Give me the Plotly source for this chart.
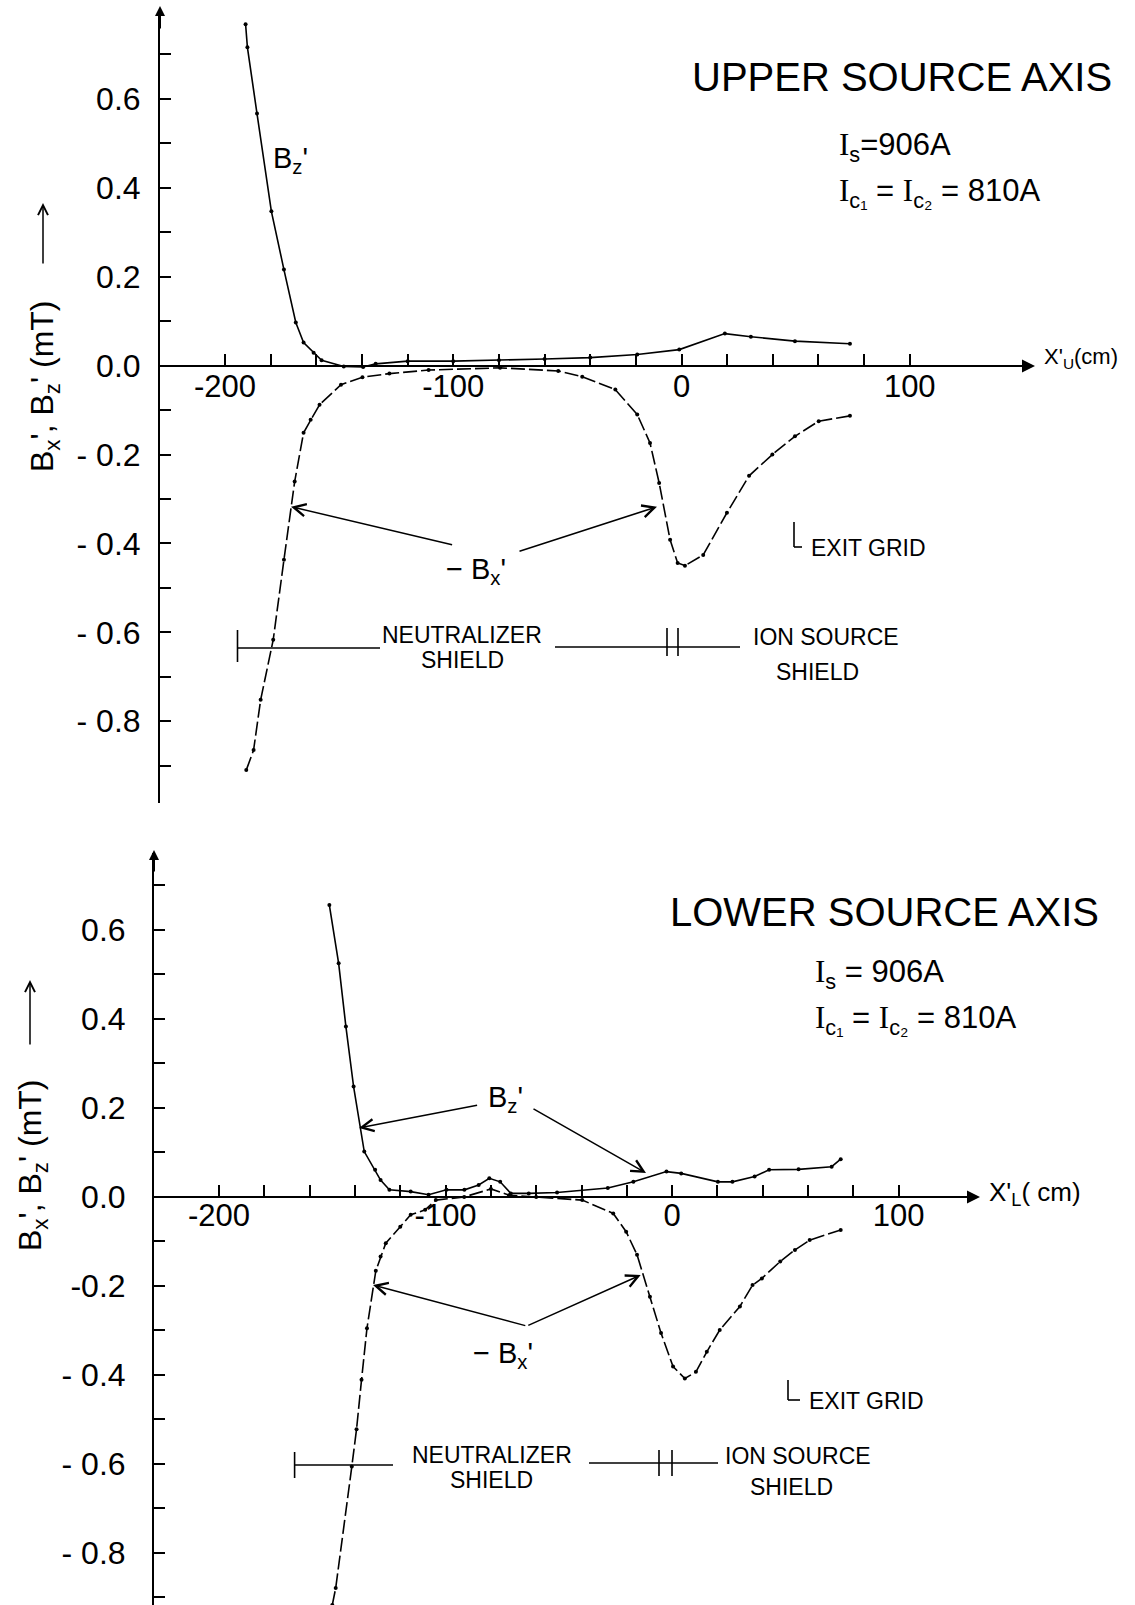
import plotly.graph_objects as go

# ---------------- data ----------------
upper_bz_x = [-191, -190.2, -186, -179.7, -174.2, -169, -165.6, -161.2, -157.7, -148, -139.5, -134,
              -120, -100, -80, -60, -40, -19.4, -1, 19, 30.4, 49.7, 73.8]
upper_bz = [0.768, 0.716, 0.567, 0.347, 0.216, 0.097, 0.052, 0.029, 0.012, -0.002, -0.003, 0.004,
            0.01, 0.01, 0.012, 0.015, 0.018, 0.025, 0.036, 0.072, 0.065, 0.055, 0.049]

upper_bx_x = [-190.7, -187.5, -184.4, -178.9, -174.2, -169.5, -165.6, -162.5, -158.6, -149.2, -139.8,
              -128, -110.8, -79.5, -54, -43.5, -29, -19.4, -13.8, -9.8, -5, -1.7, 1.5, 9.5, 19.9,
              29.6, 39.8, 49.7, 60.1, 73.8]
upper_neg_bx = [-0.91, -0.865, -0.752, -0.617, -0.437, -0.261, -0.151, -0.122, -0.088, -0.043, -0.026,
                -0.018, -0.01, -0.005, -0.012, -0.025, -0.054, -0.11, -0.174, -0.264, -0.392, -0.444,
                -0.45, -0.426, -0.331, -0.248, -0.2, -0.159, -0.125, -0.113]

lower_bz_x = [-151.3, -147.2, -144, -140.6, -135.9, -131.1, -128.7, -124.8, -115.4, -107.5, -99.6, -91.7,
              -85.4, -80.7, -75.9, -71.2, -63.3, -50.8, -28.4, -17.1, -2.5, 4.0, 20.2, 26.6, 36.4,
              42.8, 55.8, 70.4, 74.4]
lower_bz = [0.656, 0.525, 0.383, 0.248, 0.102, 0.061, 0.038, 0.016, 0.012, 0.005, 0.016, 0.016,
            0.027, 0.042, 0.034, 0.008, 0.008, 0.01, 0.02, 0.034, 0.057, 0.053, 0.034, 0.034, 0.046,
            0.061, 0.062, 0.068, 0.085]

lower_bx_x = [-150, -148.5, -141.4, -139.3, -137.1, -134.7, -130.8, -128.7, -126.4, -120, -115.4, -109,
              -104.3, -91.8, -80, -72, -60, -39.7, -26, -20.3, -15.5, -9.8, -4.9, 0.4, 5.6, 10.5,
              15.3, 21, 29.9, 35.5, 39.6, 47.7, 54.2, 60.7, 74.4]
lower_neg_bx = [-0.917, -0.879, -0.606, -0.522, -0.411, -0.295, -0.166, -0.134, -0.104, -0.067, -0.04,
                -0.029, -0.007, 0.0, 0.018, 0.004, 0.0, -0.007, -0.037, -0.078, -0.13, -0.224, -0.306,
                -0.381, -0.408, -0.393, -0.348, -0.299, -0.246, -0.198, -0.183, -0.145, -0.119,
                -0.097, -0.074]

x_tick_vals = [-200, -100, 0, 100]
x_tick_text = ["-200", "-100", "0", "100"]
x_minor_vals = list(range(-200, 101, 20))
y_tick_vals = [-0.8, -0.6, -0.4, -0.2, 0.0, 0.2, 0.4, 0.6]
upper_y_text = ["- 0.8", "- 0.6", "- 0.4", "- 0.2", "0.0", "0.2", "0.4", "0.6"]
lower_y_text = ["- 0.8", "- 0.6", "- 0.4", "-0.2", "0.0", "0.2", "0.4", "0.6"]
y_minor_vals = [-0.9, -0.7, -0.5, -0.3, -0.1, 0.1, 0.3, 0.5, 0.7]

# ---------------- helpers ----------------
W, H = 1135, 1605
FONT = "Liberation Sans"


def px(x):
    return x / W


def py(y):
    return 1 - y / H


fig = go.Figure()

bz_line = dict(color="black", width=1.6)
bx_line = dict(color="black", width=1.6, dash="14px,4px")
mk = dict(size=4, color="black")

fig.add_trace(go.Scatter(x=upper_bz_x, y=upper_bz, mode="lines+markers", line=bz_line, marker=mk,
                         xaxis="x", yaxis="y", showlegend=False, hoverinfo="skip"))
fig.add_trace(go.Scatter(x=upper_bx_x, y=upper_neg_bx, mode="lines+markers", line=bx_line, marker=mk,
                         xaxis="x", yaxis="y", showlegend=False, hoverinfo="skip"))
fig.add_trace(go.Scatter(x=lower_bz_x, y=lower_bz, mode="lines+markers", line=bz_line, marker=mk,
                         xaxis="x2", yaxis="y2", showlegend=False, hoverinfo="skip"))
fig.add_trace(go.Scatter(x=lower_bx_x, y=lower_neg_bx, mode="lines+markers", line=bx_line, marker=mk,
                         xaxis="x2", yaxis="y2", showlegend=False, hoverinfo="skip"))

minor_style = dict(ticks="inside", ticklen=11, tickwidth=2, tickcolor="black")
common = dict(showgrid=False, zeroline=False, showline=True, linecolor="black", linewidth=2,
              ticks="inside", ticklen=11, tickwidth=2, tickcolor="black", fixedrange=True)

fig.update_layout(
    width=W, height=H, margin=dict(l=0, r=0, t=0, b=0),
    paper_bgcolor="white", plot_bgcolor="white",
    xaxis=dict(**common, domain=[px(160), px(1033)], range=[-228.5, 154], anchor="free",
               position=py(366), tickvals=x_tick_vals, ticktext=x_tick_text,
               minor=dict(tickvals=x_minor_vals, **minor_style), ticklabelstandoff=-7,
               tickfont=dict(family=FONT, size=31, color="black")),
    yaxis=dict(**common, domain=[py(803), py(10)], range=[-0.984, 0.80], anchor="x",
               tickvals=y_tick_vals, ticktext=upper_y_text,
               minor=dict(tickvals=y_minor_vals, **minor_style), ticklabelstandoff=11,
               tickfont=dict(family=FONT, size=32, color="black")),
    xaxis2=dict(**common, domain=[px(154), px(978)], range=[-228.7, 135], anchor="free",
                position=py(1197), tickvals=x_tick_vals, ticktext=x_tick_text,
                minor=dict(tickvals=x_minor_vals, **minor_style), ticklabelstandoff=-9,
                tickfont=dict(family=FONT, size=31, color="black")),
    yaxis2=dict(**common, domain=[0, py(853)], range=[-0.917, 0.773], anchor="x2",
                tickvals=y_tick_vals, ticktext=lower_y_text,
                minor=dict(tickvals=y_minor_vals, **minor_style), ticklabelstandoff=20,
                tickfont=dict(family=FONT, size=32, color="black")),
)

ann = []


def txt(s, x, y, size, xanchor="left", yanchor="middle", angle=0, family=FONT):
    ann.append(dict(text=s, x=px(x), y=py(y), xref="paper", yref="paper", xanchor=xanchor,
                    yanchor=yanchor, showarrow=False, textangle=angle,
                    font=dict(family=family, size=size, color="black")))


def arrow(tail, tip, head=5, size=1.6, width=1.5):
    ann.append(dict(text="", x=px(tip[0]), y=py(tip[1]), xref="paper", yref="paper",
                    ax=tail[0] - tip[0], ay=tail[1] - tip[1], axref="pixel", ayref="pixel",
                    showarrow=True, arrowhead=head, arrowsize=size, arrowwidth=width,
                    arrowcolor="black", standoff=0, startstandoff=0))


SERIF_I = "<span style='font-family:Liberation Serif'>I</span>"

# ----- upper panel texts -----
txt("UPPER SOURCE AXIS", 690, 77, 40)
txt(SERIF_I + "<sub>s</sub>=906A", 837, 147, 31)
txt(SERIF_I + "<sub>c₁</sub> = " + SERIF_I + "<sub>c₂</sub> = 810A", 837, 193, 31)
txt("B<sub>z</sub>'", 290, 160, 29, xanchor="center")
txt("− B<sub>x</sub>'", 476, 571, 29, xanchor="center")
arrow((453.6, 545), (291, 506.7))
arrow((518, 551.7), (657, 506.7))
txt("NEUTRALIZER", 462, 635, 23, xanchor="center")
txt("SHIELD", 462, 660, 23, xanchor="center")
txt("ION SOURCE", 751, 637, 23)
txt("SHIELD", 817, 672, 23, xanchor="center")
txt("EXIT GRID", 809, 548, 23)
txt("X'<sub>U</sub>(cm)", 1042, 358, 22)
txt("B<sub>x</sub>', B<sub>z</sub>' (mT)", 45, 386, 32, xanchor="center", angle=-90)
arrow((43, 265), (43, 203), head=5, size=1.3, width=1.5)

# ----- lower panel texts -----
txt("LOWER SOURCE AXIS", 668, 912, 40)
txt(SERIF_I + "<sub>s</sub> = 906A", 813, 974, 31)
txt(SERIF_I + "<sub>c₁</sub> = " + SERIF_I + "<sub>c₂</sub> = 810A", 813, 1020, 31)
txt("B<sub>z</sub>'", 505, 1099, 29, xanchor="center")
arrow((478.6, 1105), (359, 1128))
arrow((532, 1108), (646, 1173))
txt("− B<sub>x</sub>'", 503, 1355, 29, xanchor="center")
arrow((526.8, 1326), (373, 1285))
arrow((526.8, 1326), (640.7, 1275))
txt("NEUTRALIZER", 492, 1455, 23, xanchor="center")
txt("SHIELD", 491, 1480, 23, xanchor="center")
txt("ION SOURCE", 723, 1456, 23)
txt("SHIELD", 791, 1487, 23, xanchor="center")
txt("EXIT GRID", 807, 1401, 23)
txt("X'<sub>L</sub>( cm)", 987, 1193, 26)
txt("B<sub>x</sub>', B<sub>z</sub>' (mT)", 32, 1165, 32, xanchor="center", angle=-90)
arrow((30, 1046), (30, 980), head=5, size=1.3, width=1.5)

# axis arrowheads
arrow((1013, 366), (1035, 366), head=2, size=1.3, width=2)
arrow((958, 1197), (980, 1197), head=2, size=1.3, width=2)
arrow((160, 30), (160, 6), head=2, size=1.0, width=2)
arrow((154, 873), (154, 850), head=2, size=1.0, width=2)

fig.update_layout(annotations=ann)

# ----- decorative lines (shield markers, exit grid corners) -----
shapes = []


def seg(x0, y0, x1, y1, w=1.6):
    shapes.append(dict(type="line", xref="paper", yref="paper", x0=px(x0), y0=py(y0), x1=px(x1),
                       y1=py(y1), line=dict(color="black", width=w)))


# upper
seg(237.5, 630, 237.5, 662)
seg(237.5, 648, 380, 648)
seg(555, 647, 740, 647)
seg(667, 628, 667, 656)
seg(678, 628, 678, 656)
seg(794, 522, 794, 547)
seg(794, 547, 802, 547)
# lower
seg(294.6, 1452, 294.6, 1478)
seg(294.6, 1465, 393, 1465)
seg(589, 1463, 718, 1463)
seg(659, 1450, 659, 1476)
seg(672, 1450, 672, 1476)
seg(788, 1380, 788, 1400)
seg(788, 1400, 800, 1400)

fig.update_layout(shapes=shapes)

fig.write_html("out.html")
